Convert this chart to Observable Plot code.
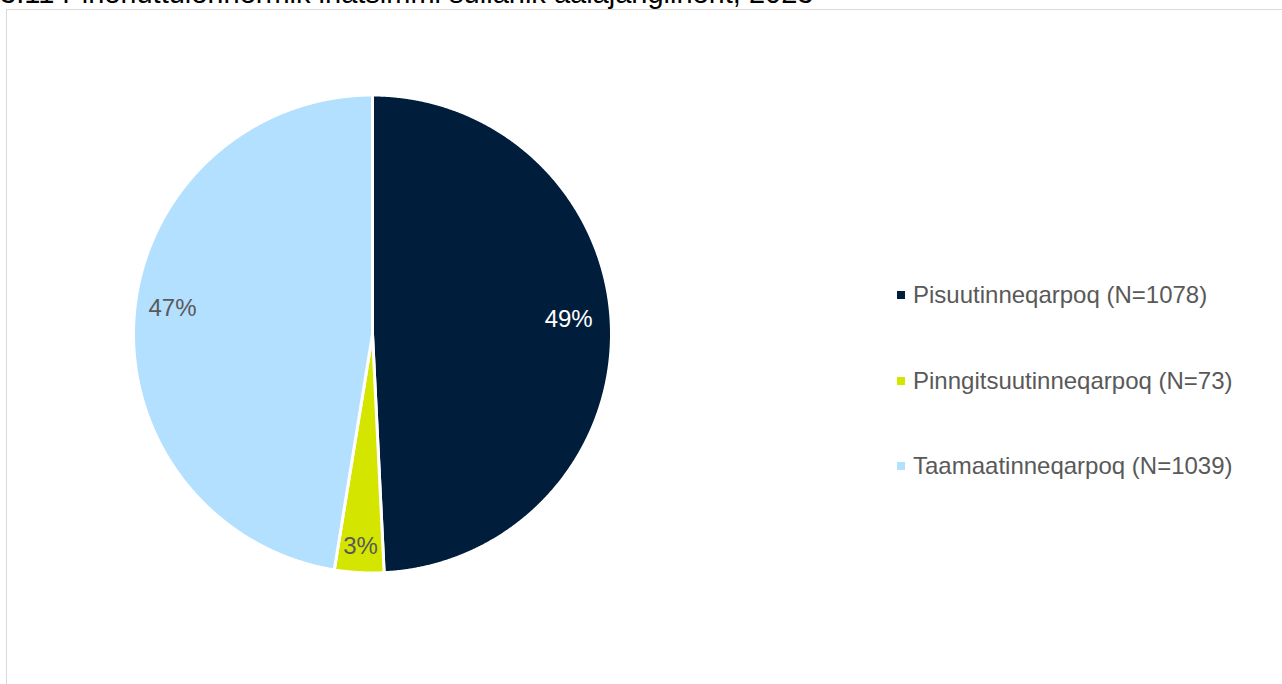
<!DOCTYPE html>
<html>
<head>
<meta charset="utf-8">
<script src="https://cdn.jsdelivr.net/npm/d3@7"></script>
<script src="https://cdn.jsdelivr.net/npm/@observablehq/plot@0.6"></script>
<style>
  html, body { margin: 0; padding: 0; background: #fff; overflow: hidden; }
  body { position: relative; width: 1282px; height: 684px; font-family: "Liberation Sans", Arial, sans-serif; }
  #title { position: absolute; left: 0; top: -23px; font-size: 29px; color: #000; white-space: nowrap; line-height: 32px; }
  #frame { position: absolute; left: 6px; top: 9px; width: 1400px; height: 800px; border: 1.5px solid #d9d9d9; box-sizing: border-box; }
  #chart { position: absolute; left: 0; top: 0; }
  #legend { position: absolute; left: 897px; top: 274px; font-size: 24px; color: #595959; }
  .row { height: 85.5px; display: flex; align-items: flex-start; }
  .row .sw { width: 8px; height: 8px; margin-top: 17px; margin-right: 8px; flex: none; }
  .row span { line-height: 42px; }
</style>
</head>
<body>
<div id="title">3.11 Pinerluttulerinermik inatsimmi sulianik aalajangiinerit, 2023</div>
<div id="frame"></div>
<div id="chart"></div>
<div id="legend"></div>
<script>
// ---- data ----
const categories = ["Pisuutinneqarpoq", "Pinngitsuutinneqarpoq", "Taamaatinneqarpoq"];
const counts = [1078, 73, 1039];
const legendLabels = ["Pisuutinneqarpoq (N=1078)", "Pinngitsuutinneqarpoq (N=73)", "Taamaatinneqarpoq (N=1039)"];
const colors = ["#001e3c", "#d4e600", "#b3e0ff"];
const labelColors = ["#ffffff", "#595959", "#595959"];

// ---- layout ----
const W = 1282, H = 684;
const cx = 372, cy = 333.5, R = 239; // pixel center and radius
const fontSize = 24;

const total = d3.sum(counts);
const arcs = d3.pie().sort(null).value(d => d)(counts);

// polygon points for each slice in unit-radius data coordinates
const slices = arcs.map((a, i) => {
  const pts = [{x: 0, y: 0, k: i}];
  const n = Math.max(8, Math.ceil((a.endAngle - a.startAngle) / 0.004));
  for (let j = 0; j <= n; j++) {
    const t = a.startAngle + (a.endAngle - a.startAngle) * j / n;
    pts.push({x: Math.sin(t), y: Math.cos(t), k: i});
  }
  return pts;
});

// labels: place box inside the outer edge (like "inside end")
const labels = arcs.map((a, i) => {
  const pct = Math.round(counts[i] / total * 100) + "%";
  const mid = (a.startAngle + a.endAngle) / 2;
  const dx = Math.sin(mid), dy = Math.cos(mid);
  const hw = pct.length === 3 ? 23.5 : 17, hh = 11;
  const pad = dx < 0 ? 14 : 19;
  const d = (R - pad) - (Math.abs(dx) * hw + Math.abs(dy) * hh);
  return {x: dx * d / R, y: dy * d / R + 10 * Math.abs(dx) / R, text: pct, color: labelColors[i]};
});

const marks = slices.map((pts, i) =>
  Plot.line(pts, {x: "x", y: "y", curve: "linear-closed", fill: colors[i], stroke: "white", strokeWidth: 3, strokeLinejoin: "round"})
);
marks.push(Plot.text(labels, {x: "x", y: "y", text: "text", fill: "color", fontSize: fontSize, fontFamily: "Liberation Sans, Arial, sans-serif"}));

const chart = Plot.plot({
  width: W, height: H,
  margin: 0, marginTop: 0, marginRight: 0, marginBottom: 0, marginLeft: 0,
  x: {domain: [-cx / R, (W - cx) / R], range: [0, W], axis: null},
  y: {domain: [-(H - cy) / R, cy / R], range: [H, 0], axis: null},
  style: {background: "none", overflow: "visible"},
  marks
});
document.getElementById("chart").appendChild(chart);

const legend = document.getElementById("legend");
legendLabels.forEach((t, i) => {
  const row = document.createElement("div");
  row.className = "row";
  const sw = document.createElement("div");
  sw.className = "sw";
  sw.style.background = colors[i];
  const sp = document.createElement("span");
  sp.textContent = t;
  row.appendChild(sw); row.appendChild(sp);
  legend.appendChild(row);
});
</script>
</body>
</html>
